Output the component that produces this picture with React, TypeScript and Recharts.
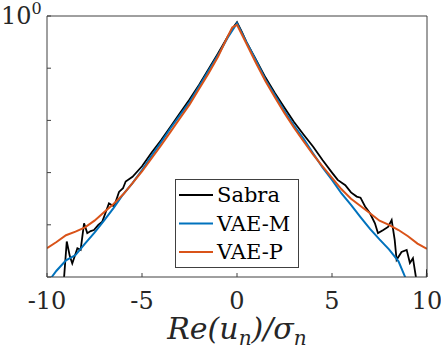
import React from "react";
import { LineChart, Line, XAxis, YAxis, Legend } from "recharts";

// PDF of Re(u_n)/sigma_n (log y axis)
const sabraX = [
  -9.25, -9.1, -8.96, -8.8, -8.67, -8.4, -8.23, -8.05, -7.88, -7.7, -7.53, -7.3, -7.09, -6.9,
  -6.74, -6.47, -6.21, -6.0, -5.86, -5.5, -5.0, -4.5, -4.0, -3.5, -3.0, -2.5, -2.0, -1.5, -1.0,
  -0.5, -0.2, 0, 0.25, 0.5, 1.0, 1.5, 2.0, 2.5, 3.0, 3.5, 4.0, 4.5, 5.0, 5.3, 5.7, 6.0, 6.3,
  6.5, 6.74, 7.0, 7.26, 7.42, 7.7, 7.95, 8.14, 8.3, 8.4, 8.66, 8.93, 9.1, 9.26, 9.46, 9.7,
  9.95, 10,
];
const sabraY = [
  3.98e-6, 1.0e-5, 4.79e-5, 2.51e-5, 1.82e-5, 3.55e-5, 3.31e-5, 1.07e-4, 6.92e-5, 7.59e-5,
  7.94e-5, 1.0e-4, 1.15e-4, 1.78e-4, 2.57e-4, 2.24e-4, 4.27e-4, 5.01e-4, 6.76e-4, 8.32e-4,
  1.32e-3, 2.4e-3, 4.17e-3, 7.59e-3, 1.38e-2, 2.51e-2, 4.79e-2, 9.55e-2, 0.191, 0.398, 0.603,
  0.759, 0.501, 0.316, 0.145, 6.61e-2, 3.31e-2, 1.74e-2, 9.33e-3, 5.37e-3, 3.16e-3, 1.74e-3,
  1.0e-3, 7.24e-4, 5.75e-4, 4.17e-4, 3.47e-4, 3.31e-4, 2.24e-4, 1.66e-4, 1.07e-4, 6.92e-5,
  7.94e-5, 9.12e-5, 1.23e-4, 5.13e-5, 2.14e-5, 3.02e-5, 3.31e-5, 1.86e-5, 2.29e-5, 7.94e-6,
  3.98e-6, 3.98e-6, 1.41e-5,
];

const vaeMX = [
  -10, -9.75, -9.5, -9, -8.5, -8, -7.5, -7, -6.5, -6, -5.5, -5, -4.5, -4, -3.5, -3, -2.5, -2,
  -1.5, -1, -0.5, 0, 0.5, 1, 1.5, 2, 2.5, 3, 3.5, 4, 4.5, 5, 5.5, 6, 6.5, 7, 7.5, 8, 8.5, 8.85, 9,
];
const vaeMY = [
  7.08e-6, 1.0e-5, 1.32e-5, 2.09e-5, 2.63e-5, 4.37e-5, 7.08e-5, 1.2e-4, 2.09e-4, 3.8e-4,
  6.31e-4, 1.12e-3, 2.09e-3, 3.8e-3, 7.08e-3, 1.26e-2, 2.24e-2, 4.47e-2, 8.91e-2, 0.178, 0.38,
  0.724, 0.316, 0.141, 6.03e-2, 3.02e-2, 1.51e-2, 7.94e-3, 4.47e-3, 2.34e-3, 1.26e-3, 7.24e-4,
  3.98e-4, 2.4e-4, 1.41e-4, 8.32e-5, 5.25e-5, 3.39e-5, 2.0e-5, 1.0e-5, 7.08e-6,
];

const vaePX = [
  -10, -9.5, -9, -8.5, -8, -7.5, -7, -6.5, -6, -5.5, -5, -4.5, -4, -3.5, -3, -2.5, -2, -1.5, -1,
  -0.5, -0.25, 0, 0.5, 1, 1.5, 2, 2.5, 3, 3.5, 4, 4.5, 5, 5.5, 6, 6.5, 7, 7.5, 8, 8.5, 9, 9.5, 10,
];
const vaePY = [
  3.55e-5, 4.68e-5, 6.31e-5, 7.41e-5, 8.91e-5, 1.2e-4, 1.74e-4, 2.51e-4, 3.8e-4, 6.31e-4,
  1.05e-3, 1.86e-3, 3.31e-3, 6.03e-3, 1.1e-2, 2.0e-2, 3.98e-2, 7.94e-2, 0.166, 0.398, 0.603,
  0.676, 0.295, 0.126, 5.62e-2, 2.75e-2, 1.38e-2, 7.24e-3, 3.98e-3, 2.24e-3, 1.32e-3, 7.94e-4,
  4.79e-4, 3.16e-4, 2.29e-4, 1.66e-4, 1.2e-4, 1.0e-4, 7.94e-5, 6.03e-5, 4.37e-5, 3.47e-5,
];

const xTicks = [-10, -5, 0, 5, 10];
const yTicks = [1e-5, 1e-4, 1e-3, 1e-2, 1e-1, 1];

const toRows = (xs: number[], ys: number[]) => xs.map((x, i) => ({ x, y: ys[i] }));
const sabra = toRows(sabraX, sabraY);
const vaeM = toRows(vaeMX, vaeMY);
const vaeP = toRows(vaePX, vaePY);

const series = [
  { name: "Sabra", color: "#000000" },
  { name: "VAE-M", color: "#0072BD" },
  { name: "VAE-P", color: "#D95319" },
];

const FONT = "DejaVu Serif";
const AXIS = "#404040";

const XTick = (props: any) => {
  const { x, payload } = props;
  return (
    <text x={x} y={309} textAnchor="middle" fontFamily={FONT} fontSize={24} fill="#262626">
      {payload.value}
    </text>
  );
};

const YTick = (props: any) => {
  const { payload } = props;
  if (payload.value !== 1) return null;
  return (
    <text x={1} y={24} fontFamily={FONT} fontSize={24} fill="#262626">
      10
      <tspan fontSize={16} dy={-10}>0</tspan>
    </text>
  );
};

const XLabel = (props: any) => {
  const vb = props.viewBox || {};
  const cx = vb.x + vb.width / 2;
  return (
    <text x={cx} y={339} textAnchor="middle" fontFamily={FONT} fontSize={30} fontStyle="italic" fill="#262626">
      Re(u
      <tspan fontSize={20} dy={6}>n</tspan>
      <tspan dy={-6}>)/σ</tspan>
      <tspan fontSize={20} dy={6}>n</tspan>
    </text>
  );
};

const LegendBox = () => (
  <svg width={125} height={89}>
    <rect x={0.5} y={0.5} width={123} height={88} fill="#fff" stroke={AXIS} strokeWidth={1} />
    {series.map((s, i) => {
      const y = 16 + i * 28.5;
      return (
        <g key={s.name}>
          <line x1={4} x2={38} y1={y} y2={y} stroke={s.color} strokeWidth={1.8} />
          <text x={42} y={y + 7} fontFamily={FONT} fontSize={21} fill="#000">
            {s.name}
          </text>
        </g>
      );
    })}
  </svg>
);

export default function App() {
  return (
    <div style={{ position: "absolute", left: 0, top: 0, width: 441, height: 357, background: "#fff" }}>
      <LineChart width={441} height={357} margin={{ top: 0, right: 0, bottom: 0, left: 0 }}>
        <XAxis
          xAxisId="b"
          dataKey="x"
          type="number"
          domain={[-10, 10]}
          ticks={xTicks}
          allowDataOverflow
          height={80}
          stroke={AXIS}
          tickSize={-4}
          tick={<XTick />}
          label={<XLabel />}
        />
        <XAxis
          xAxisId="t"
          orientation="top"
          dataKey="x"
          type="number"
          domain={[-10, 10]}
          ticks={xTicks}
          height={16}
          stroke={AXIS}
          tickSize={-4}
          tick={false}
        />
        <YAxis
          yAxisId="l"
          dataKey="y"
          scale="log"
          type="number"
          domain={[1e-5, 1]}
          ticks={yTicks}
          allowDataOverflow
          width={47}
          stroke={AXIS}
          tickSize={-4}
          tick={<YTick />}
        />
        <YAxis
          yAxisId="r"
          orientation="right"
          scale="log"
          type="number"
          domain={[1e-5, 1]}
          ticks={yTicks}
          allowDataOverflow
          width={14}
          stroke={AXIS}
          tickSize={-4}
          tick={false}
        />
        <Legend
          layout="vertical"
          align="center"
          verticalAlign="middle"
          wrapperStyle={{ left: 175, top: 179, width: 125, height: 89 }}
          content={<LegendBox />}
        />
        <Line xAxisId="b" yAxisId="l" data={sabra} dataKey="y" name="Sabra" stroke="#000000" strokeWidth={1.8} dot={false} isAnimationActive={false} />
        <Line xAxisId="b" yAxisId="l" data={vaeM} dataKey="y" name="VAE-M" stroke="#0072BD" strokeWidth={2} dot={false} isAnimationActive={false} />
        <Line xAxisId="b" yAxisId="l" data={vaeP} dataKey="y" name="VAE-P" stroke="#D95319" strokeWidth={2} dot={false} isAnimationActive={false} />
      </LineChart>
    </div>
  );
}
